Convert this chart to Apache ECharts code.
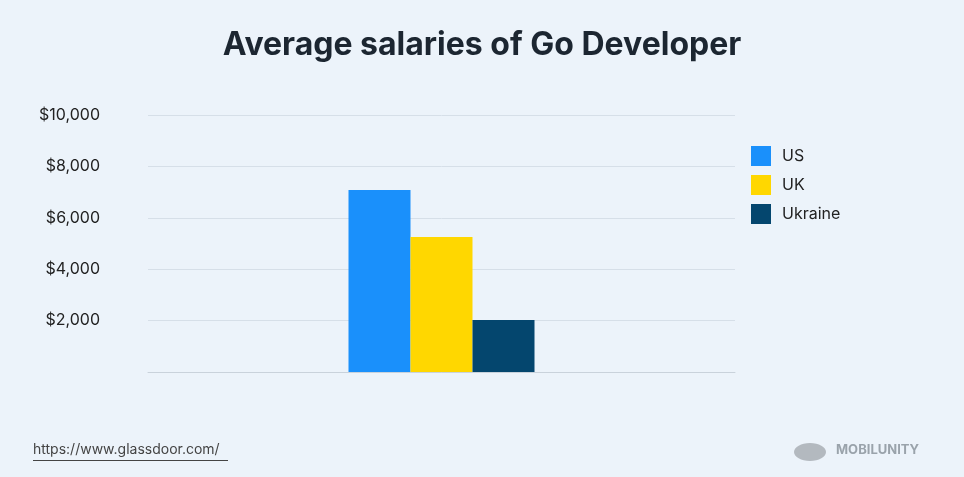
<!DOCTYPE html>
<html><head><meta charset="utf-8">
<script src="https://cdn.jsdelivr.net/npm/echarts@6/dist/echarts.min.js"></script>
<style>html,body{margin:0;padding:0;background:#ecf3fa}#c{width:964px;height:477px}</style>
</head><body><div id="c"></div>
<script>
const categories = ['Go Developer'];
const seriesNames = ['US', 'UK', 'Ukraine'];
const usValues = [7080];
const ukValues = [5250];
const uaValues = [2020];
const colors = ['#1a90fb', '#ffd700', '#04466e'];
const chart = echarts.init(document.getElementById('c'));
const vals = [usValues, ukValues, uaValues];
chart.setOption({
  backgroundColor: '#ecf3fa',
  title: { text: 'Average salaries of Go Developer', left: 'center', top: 24,
    textStyle: { fontFamily: 'Inter', fontWeight: 'bold', fontSize: 32, color: '#1c2631' } },
  legend: { orient: 'vertical', left: 746, top: 141, itemWidth: 20, itemHeight: 20, itemGap: 9,
    icon: 'rect', textStyle: { fontFamily: 'Inter', fontSize: 16, color: '#222', padding: [0,0,0,6] },
    data: seriesNames },
  grid: { left: 148, right: 229, top: 115, bottom: 105 },
  xAxis: { type: 'category', data: categories, axisLabel: { show: false }, axisTick: { show: false },
    axisLine: { lineStyle: { color: '#c9d2db' } } },
  yAxis: { type: 'value', min: 0, max: 10000, interval: 2000,
    axisLabel: { fontFamily: 'Inter', fontSize: 16, color: '#222', margin: 48,
      formatter: v => v === 0 ? '' : '$' + v.toLocaleString('en-US') },
    splitLine: { lineStyle: { color: '#d6dfe8' } } },
  series: seriesNames.map((n, i) => ({ name: n, type: 'bar', data: vals[i], barWidth: 62,
    barGap: '0%', itemStyle: { color: colors[i] } })),
  graphic: [
    { type: 'text', left: 33, top: 443, style: { text: 'https://www.glassdoor.com/', fontFamily: 'Inter', fontSize: 14, fill: '#444' } },
    { type: 'rect', left: 33, top: 460, shape: { width: 195, height: 1 }, style: { fill: '#444' } },
    { type: 'text', left: 836, top: 444, style: { text: 'MOBILUNITY', fontFamily: 'Inter', fontSize: 13, fill: '#9aa3ab', fontWeight: 'bold' } },
    { type: 'ellipse', shape: { cx: 810, cy: 452, rx: 16, ry: 9 }, style: { fill: '#b3b9bf' } }
  ]
});
</script></body></html>
